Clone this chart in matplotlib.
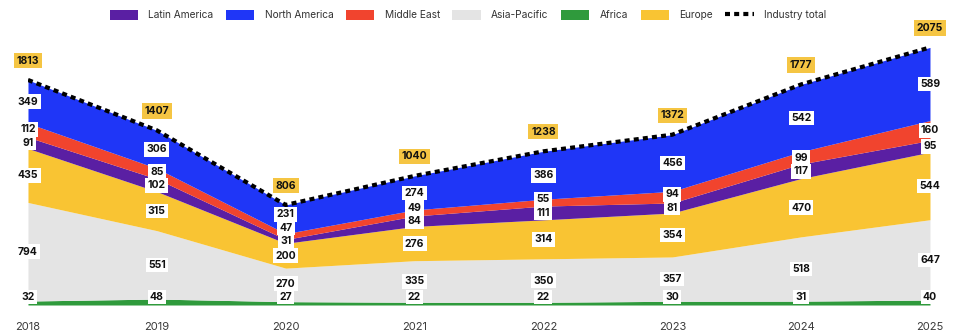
import numpy as np
import matplotlib.pyplot as plt
from matplotlib.patches import Patch
from matplotlib.lines import Line2D

plt.rcParams['font.family'] = ['Inter', 'DejaVu Sans']

years = [2018, 2019, 2020, 2021, 2022, 2023, 2024, 2025]
africa = [32, 48, 27, 22, 22, 30, 31, 40]
asia_pacific = [794, 551, 270, 335, 350, 357, 518, 647]
europe = [435, 315, 200, 276, 314, 354, 470, 544]
latin_america = [91, 102, 31, 84, 111, 81, 117, 95]
middle_east = [112, 85, 47, 49, 55, 94, 99, 160]
north_america = [349, 306, 231, 274, 386, 456, 542, 589]
industry_total = [1813, 1407, 806, 1040, 1238, 1372, 1777, 2075]

# bottom to top stacking order
stack = [
    ('Africa', africa, '#2f9a3c'),
    ('Asia-Pacific', asia_pacific, '#e4e4e4'),
    ('Europe', europe, '#f9c433'),
    ('Latin America', latin_america, '#5a1fa3'),
    ('Middle East', middle_east, '#f1442e'),
    ('North America', north_america, '#1f36f7'),
]
legend_order = ['Latin America', 'North America', 'Middle East',
                'Asia-Pacific', 'Africa', 'Europe']
TOTAL_BOX = '#f5c543'

fig = plt.figure(figsize=(9.55, 3.34), dpi=100)
ax = fig.add_axes([0.0293, 0.0868, 0.9445, 0.892])
ax.set_xlim(2018, 2025)
ax.set_ylim(0, 2400)

x = np.array(years, float)
base = np.zeros(len(years))
bands = []
for name, vals, col in stack:
    v = np.array(vals, float)
    ax.fill_between(x, base, base + v, color=col, lw=0, zorder=2)
    bands.append((base.copy(), v))
    base = base + v

ax.plot(x, industry_total, color='black', lw=3, linestyle=(0, (1.2, 1.0)),
        dash_capstyle='butt', zorder=4)

# value labels, pushed apart so the boxes don't overlap
to_px = ax.transData.transform
from_px = ax.transData.inverted().transform
MIN_GAP = 13.5
for i, yr in enumerate(years):
    prev = None
    for (b, v) in bands:
        mid = b[i] + v[i] / 2
        py = to_px((yr, mid))[1]
        if prev is None:
            py = max(py, to_px((yr, 0))[1] + 8)
        else:
            py = max(py, prev + MIN_GAP)
        prev = py
        ydat = from_px((to_px((yr, 0))[0], py))[1]
        ax.text(yr, ydat, str(int(v[i])), ha='center', va='center',
                fontsize=7.5, fontweight='bold', color='#111111', zorder=5,
                clip_on=False,
                bbox=dict(boxstyle='square,pad=0.22', fc='white', ec='none'))
    ax.annotate(str(industry_total[i]), (yr, industry_total[i]),
                xytext=(0, 14), textcoords='offset points',
                ha='center', va='center', fontsize=7.5, fontweight='bold',
                color='#111111', zorder=6, annotation_clip=False,
                bbox=dict(boxstyle='square,pad=0.25', fc=TOTAL_BOX, ec='none'))

for s in ax.spines.values():
    s.set_visible(False)
ax.set_yticks([])
ax.set_xticks(years)
ax.set_xticklabels([str(y) for y in years], fontsize=8, color='#3a3a3a')
ax.tick_params(axis='x', length=0, pad=12)

colors = {n: c for n, _, c in stack}
handles = [Patch(facecolor=colors[n], edgecolor='none', label=n) for n in legend_order]
handles.append(Line2D([0], [0], color='black', lw=3, linestyle=(0, (1.2, 1.0)),
                      label='Industry total'))
fig.legend(handles=handles, loc='center', bbox_to_anchor=(0.49, 0.955), ncol=7,
           frameon=False, fontsize=7.3, handlelength=2.8, handleheight=1.1,
           handletextpad=1.0, columnspacing=1.25, labelcolor='#333333')

fig.savefig('out.png', dpi=100)
